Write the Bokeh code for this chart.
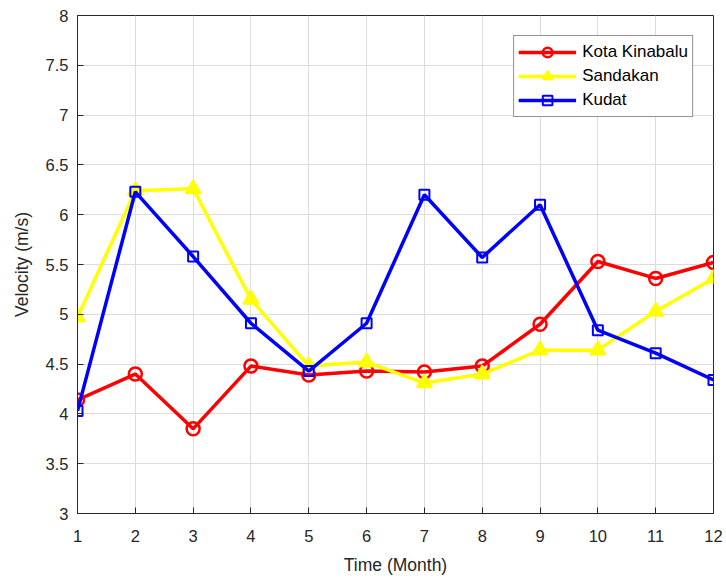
from bokeh.plotting import figure
from bokeh.models import FixedTicker, Range1d, Legend, LegendItem
from bokeh.embed import file_html
from bokeh.resources import INLINE

months = [1, 2, 3, 4, 5, 6, 7, 8, 9, 10, 11, 12]
kota_kinabalu = [4.14, 4.40, 3.85, 4.48, 4.39, 4.43, 4.42, 4.48, 4.90, 5.53, 5.36, 5.52]
sandakan = [4.97, 6.24, 6.26, 5.15, 4.48, 4.52, 4.31, 4.40, 4.64, 4.64, 5.03, 5.36]
kudat = [4.03, 6.23, 5.58, 4.91, 4.43, 4.91, 6.20, 5.57, 6.10, 4.84, 4.61, 4.34]

x_ticks = months
y_ticks = [3, 3.5, 4, 4.5, 5, 5.5, 6, 6.5, 7, 7.5, 8]

FONT = "Liberation Sans"
TXT = "#262626"

p = figure(width=726, height=580, output_backend="svg", toolbar_location=None,
           x_range=Range1d(1, 12), y_range=Range1d(3, 8),
           min_border_left=77, min_border_right=13, min_border_top=15, min_border_bottom=67)
p.background_fill_color = "white"
p.border_fill_color = "white"
p.outline_line_color = TXT
p.outline_line_width = 1

for ax in (p.xaxis[0], p.yaxis[0]):
    ax.major_label_text_font = FONT
    ax.major_label_text_font_size = "16.5px"
    ax.major_label_text_color = TXT
    ax.axis_label_text_font = FONT
    ax.axis_label_text_font_size = "17.5px"
    ax.axis_label_text_font_style = "normal"
    ax.axis_label_text_color = TXT
    ax.axis_line_color = TXT
    ax.major_tick_line_color = TXT
    ax.major_tick_in = 6
    ax.major_tick_out = 0
    ax.minor_tick_line_color = None

p.xaxis[0].ticker = FixedTicker(ticks=x_ticks)
p.yaxis[0].ticker = FixedTicker(ticks=y_ticks)
p.yaxis[0].major_label_overrides = {t: f"{t:g}" for t in y_ticks}
p.xaxis[0].axis_label = "Time (Month)"
p.yaxis[0].axis_label = "Velocity (m/s)"
p.xaxis[0].major_label_standoff = 16
p.yaxis[0].major_label_standoff = 9
p.xaxis[0].axis_label_standoff = 10
p.yaxis[0].axis_label_standoff = 11

p.xgrid.ticker = FixedTicker(ticks=x_ticks)
p.ygrid.ticker = FixedTicker(ticks=y_ticks)
p.grid.grid_line_color = "#dcdcdc"
p.grid.grid_line_width = 1

r1 = p.line(months, kota_kinabalu, line_color="#ff0000", line_width=3.5)
m1 = p.scatter(months, kota_kinabalu, marker="circle", size=13, fill_color=None,
               line_color="#ff0000", line_width=2.5)
r2 = p.line(months, sandakan, line_color="#ffff00", line_width=3.5)
m2 = p.scatter(months, sandakan, marker="triangle", size=15, fill_color="#ffff00",
               line_color="#ffff00", line_width=2)
r3 = p.line(months, kudat, line_color="#0000ff", line_width=3.5)
m3 = p.scatter(months, kudat, marker="square", size=10, fill_color=None,
               line_color="#0000ff", line_width=2)

legend = Legend(items=[
    LegendItem(label="Kota Kinabalu", renderers=[r1, m1]),
    LegendItem(label="Sandakan", renderers=[r2, m2]),
    LegendItem(label="Kudat", renderers=[r3, m3]),
], location="top_right")
legend.label_text_font = FONT
legend.label_text_font_size = "17px"
legend.label_text_color = "#000000"
legend.border_line_color = TXT
legend.border_line_width = 1
legend.glyph_width = 58
legend.glyph_height = 24
legend.label_height = 24
legend.spacing = 0
legend.padding = 4
legend.margin = 20
legend.label_standoff = 6
p.add_layout(legend)

open("out.html", "w").write(file_html(p, INLINE))
